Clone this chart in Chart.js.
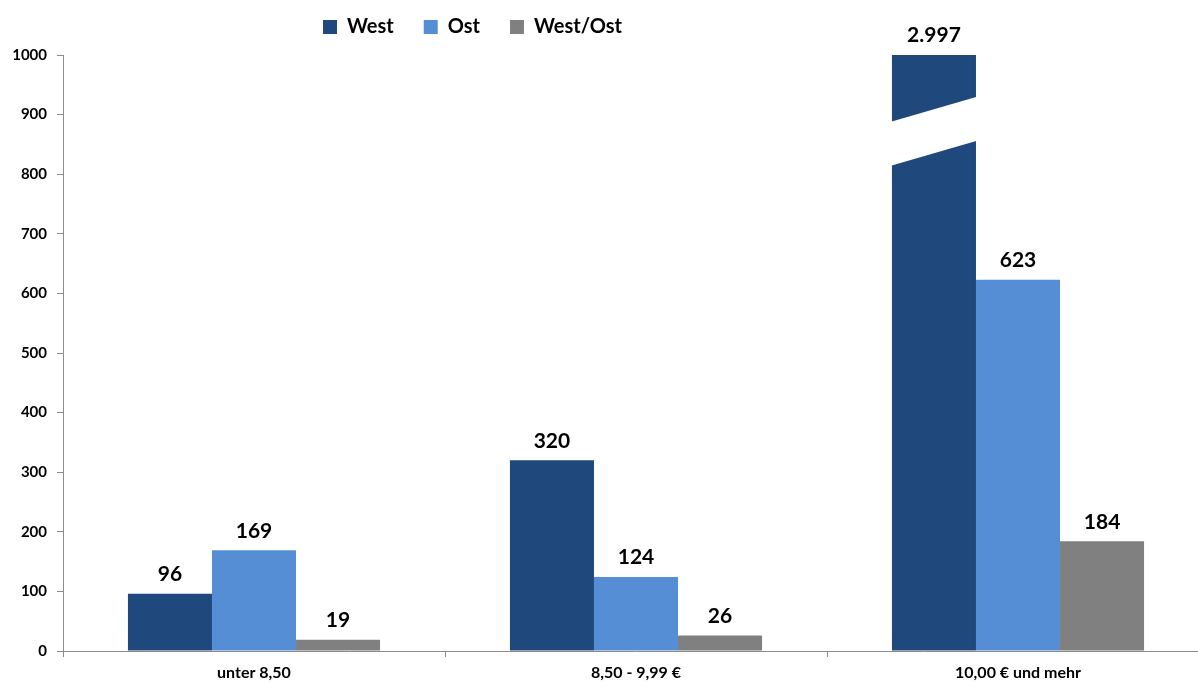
<!DOCTYPE html>
<html>
<head>
<meta charset="utf-8">
<script src="https://cdn.jsdelivr.net/npm/chart.js@4.4.1/dist/chart.umd.min.js"></script>
<style>
  html, body { margin: 0; padding: 0; background: #fff; overflow: hidden; }
  canvas { display: block; }
</style>
</head>
<body>
<canvas id="chart" width="1210" height="684"></canvas>
<script>
// chart data
const categories = ["unter 8,50", "8,50 - 9,99 €", "10,00 € und mehr"];
const westValues = [96, 320, 2997];
const ostValues = [169, 124, 623];
const westOstValues = [19, 26, 184];
const yTicks = [0, 100, 200, 300, 400, 500, 600, 700, 800, 900, 1000];

// axis break drawn across the cut West bar (value units: left edge, right edge)
const breakLow = [814, 856];
const breakHigh = [888, 930];

const fontFamily = "Lato, 'Liberation Sans', sans-serif";

const formatValue = (v) => String(v).replace(/\B(?=(\d{3})+(?!\d))/g, ".");

// legend: a bit less tall, and moved up and left like in the original
const legendShift = {
  id: "legendShift",
  afterInit(chart) {
    const legend = chart.legend;
    const fit = legend.fit;
    legend.fit = function () {
      fit.call(this);
      this.height -= 5;
    };
  },
  afterLayout(chart) {
    chart.legend.left -= 132;
    chart.legend.right -= 132;
    chart.legend.top -= 13;
  },
};

// white slanted gap over the bar that goes off the scale
const barBreak = {
  id: "barBreak",
  afterDatasetsDraw(chart) {
    const y = chart.scales.y;
    const ctx = chart.ctx;
    const bar = chart.getDatasetMeta(0).data[2];
    const x0 = bar.x - bar.width / 2 - 1;
    const x1 = bar.x + bar.width / 2 + 1;
    ctx.save();
    ctx.fillStyle = "#ffffff";
    ctx.beginPath();
    ctx.moveTo(x0, y.getPixelForValue(breakLow[0]));
    ctx.lineTo(x1, y.getPixelForValue(breakLow[1]));
    ctx.lineTo(x1, y.getPixelForValue(breakHigh[1]));
    ctx.lineTo(x0, y.getPixelForValue(breakHigh[0]));
    ctx.closePath();
    ctx.fill();
    ctx.restore();
  },
};

// value labels over the bars
const valueLabels = {
  id: "valueLabels",
  afterDatasetsDraw(chart) {
    const ctx = chart.ctx;
    const top = chart.chartArea.top;
    ctx.save();
    ctx.font = "bold 21px " + fontFamily;
    ctx.fillStyle = "#000";
    ctx.textAlign = "center";
    ctx.textBaseline = "bottom";
    chart.data.datasets.forEach((ds, i) => {
      chart.getDatasetMeta(i).data.forEach((bar, j) => {
        const yPos = Math.max(bar.y, top);
        ctx.fillText(formatValue(ds.data[j]), bar.x, yPos - 9);
      });
    });
    ctx.restore();
  },
};

new Chart(document.getElementById("chart"), {
  type: "bar",
  data: {
    labels: categories,
    datasets: [
      { label: "West", data: westValues, backgroundColor: "#1f497d" },
      { label: "Ost", data: ostValues, backgroundColor: "#558ed5" },
      { label: "West/Ost", data: westOstValues, backgroundColor: "#808080" },
    ],
  },
  options: {
    responsive: false,
    animation: false,
    layout: { padding: { top: 0, right: 1, left: 0, bottom: 0 } },
    datasets: { bar: { categoryPercentage: 0.66, barPercentage: 1 } },
    plugins: {
      tooltip: { enabled: false },
      legend: {
        position: "top",
        labels: {
          boxWidth: 14,
          boxHeight: 14,
          padding: 30,
          color: "#000",
          font: { family: fontFamily, size: 20, weight: "bold" },
        },
      },
    },
    scales: {
      x: {
        grid: { offset: true, drawOnChartArea: false, tickLength: 6, color: "#8c8c8c" },
        border: { color: "#8c8c8c" },
        ticks: { color: "#000", padding: 6, font: { family: fontFamily, size: 16, weight: "bold" } },
        afterFit: (scale) => { scale.height = 33; },
      },
      y: {
        min: 0,
        max: 1000,
        afterBuildTicks: (scale) => { scale.ticks = yTicks.map((v) => ({ value: v })); },
        grid: { drawOnChartArea: false, tickLength: 6, color: "#8c8c8c" },
        border: { color: "#8c8c8c" },
        ticks: {
          color: "#000",
          padding: 10,
          font: { family: fontFamily, size: 15, weight: "bold" },
          callback: (v) => String(v),
        },
        afterFit: (scale) => { scale.width = 63; },
      },
    },
  },
  plugins: [legendShift, barBreak, valueLabels],
});
</script>
</body>
</html>
